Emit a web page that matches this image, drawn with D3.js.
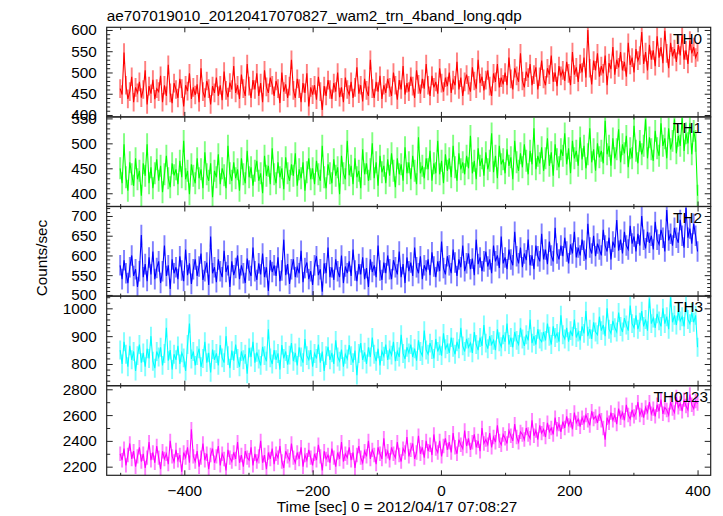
<!DOCTYPE html>
<html><head><meta charset="utf-8">
<script src="https://cdn.jsdelivr.net/npm/d3@7"></script>
<style>
body{margin:0;background:#fff}
text{font-family:"Liberation Sans",Arial,Helvetica,sans-serif;fill:#000}
</style>
</head><body>
<svg id="c" width="723" height="516"></svg>
<script>
const title = "ae707019010_20120417070827_wam2_trn_4band_long.qdp";
const xLabel = "Time [sec] 0 = 2012/04/17 07:08:27";
const yLabel = "Counts/sec";
const bandNames = ["TH0", "TH1", "TH2", "TH3", "TH0123"];
const bandColors = ["#ff0000", "#00ff00", "#0000ff", "#00ffff", "#ff00ff"];
const timeStart = -500, timeStep = 3;

const th0 = [
462,448,547,470,438,455,490,430,465,452,
478,441,460,505,425,468,450,483,437,462,
455,492,430,470,445,518,452,428,475,460,
440,485,462,420,470,456,498,438,465,447,
472,430,510,455,441,480,462,425,468,452,
488,445,470,435,502,458,442,476,460,515,
452,470,438,495,462,445,520,468,440,482,
460,498,445,475,430,505,466,452,488,470,
445,480,462,428,500,455,472,440,468,530,
458,440,485,462,430,475,452,498,420,465,
448,470,436,490,455,412,468,445,482,460,
438,475,455,500,442,465,430,488,460,448,
478,440,465,512,450,470,432,485,458,445,
530,462,440,478,455,492,438,470,452,485,
465,445,500,470,436,482,460,515,448,475,
455,490,468,440,505,472,450,485,462,520,
470,445,492,465,478,450,510,475,455,488,
468,500,452,482,470,525,460,488,445,478,
495,470,455,512,480,462,530,475,490,458,
482,505,468,445,498,478,520,465,488,472,
500,470,535,485,460,510,492,478,545,480,
465,502,488,520,470,495,512,460,490,528,
485,470,510,495,540,478,500,468,515,492,
505,480,525,498,470,548,495,512,478,520,
500,535,488,600,510,472,528,505,545,490,
515,498,540,470,522,508,560,495,530,512,
548,505,525,490,570,518,535,500,555,528,
540,595,520,548,505,565,530,552,515,585,
535,560,522,598,545,510,570,538,555,525,
565,540,590,530,552,520,575,545,560,535,548];

const th1 = [
450,420,498,432,405,462,438,415,470,428,
445,395,460,435,498,420,452,410,440,468,
425,455,402,438,475,430,412,460,436,448,
418,465,432,505,428,445,398,458,435,420,
470,430,448,410,482,438,425,460,392,445,
432,478,418,450,436,410,495,440,425,462,
430,448,405,470,438,420,485,432,452,415,
445,465,425,440,400,475,435,455,418,490,
438,420,462,432,450,408,472,440,425,458,
435,480,415,448,430,462,405,442,470,428,
450,418,465,438,425,495,432,410,458,440,
420,468,435,452,398,475,440,428,505,436,
455,418,470,432,445,410,488,438,460,425,
448,500,430,462,415,475,442,455,420,468,
435,480,445,412,470,438,458,425,492,440,
462,428,475,445,418,512,440,455,430,470,
448,485,425,460,440,505,438,465,420,478,
445,470,432,495,452,425,480,448,462,438,
475,450,515,440,465,428,490,455,470,435,
482,448,465,520,442,475,430,495,458,468,
440,488,455,472,428,505,462,445,480,452,
498,465,438,485,458,530,448,475,460,492,
445,470,510,455,482,435,498,468,452,488,
475,520,458,490,440,505,470,485,455,512,
468,495,450,478,530,462,488,445,500,472,
485,460,545,478,495,455,510,470,488,528,
462,498,480,515,452,490,470,535,485,460,
505,478,495,548,470,512,488,465,525,490,
475,540,495,510,470,530,488,505,548,480,
515,495,550,485,520,500,540,478,525,505,395];

const th2 = [
575,540,588,555,530,570,600,548,565,520,
560,652,545,578,535,595,552,610,540,568,
585,530,560,625,548,575,515,590,555,570,
540,598,562,535,615,550,580,528,565,590,
548,572,605,538,560,582,525,648,555,570,
532,590,560,545,612,558,575,520,585,550,
568,600,540,575,555,530,592,562,548,620,
560,538,580,552,605,545,570,510,588,558,
575,548,595,535,562,640,550,578,528,565,
590,545,570,555,612,532,568,582,540,560,
525,575,598,550,565,508,580,555,620,545,
570,538,590,560,545,600,530,572,555,585,
548,615,562,535,578,552,595,540,568,520,
590,558,575,545,625,562,538,582,555,600,
565,540,588,570,552,610,545,578,530,595,
560,582,548,620,570,555,598,540,575,562,
590,550,608,572,545,585,560,635,568,552,
598,575,555,615,582,548,590,570,625,560,
580,605,565,592,550,640,578,595,560,585,
610,572,590,555,625,585,600,568,648,580,
595,565,615,590,575,660,598,580,620,570,
605,588,640,575,600,565,625,598,585,655,
590,615,578,635,600,585,670,605,590,625,
598,645,610,580,628,605,660,595,620,600,
640,612,590,680,620,605,650,598,630,615,
600,665,625,610,645,590,635,620,690,612,
640,605,660,625,615,675,630,648,610,655,
625,700,640,618,660,632,650,615,685,640,
628,665,645,610,715,638,655,625,670,645,
632,690,650,620,720,645,668,630,680,650,610];

const th3 = [
850,800,880,835,790,865,815,845,775,830,
870,805,840,790,855,820,900,810,785,845,
825,860,795,838,930,812,850,780,835,815,
865,800,840,822,775,870,945,818,845,795,
830,855,790,820,880,805,840,770,852,815,
838,795,868,822,805,900,830,785,848,812,
870,820,790,845,815,835,765,858,825,880,
805,842,818,795,862,830,810,925,822,800,
850,815,838,780,868,820,845,798,832,875,
810,840,795,860,825,805,890,830,815,850,
790,838,820,870,805,845,775,830,862,815,
840,800,885,825,810,852,790,835,818,868,
830,805,848,760,838,875,815,842,800,860,
825,895,835,810,855,795,845,828,870,815,
850,832,880,810,845,825,905,838,818,860,
840,870,825,855,812,885,845,830,920,850,
835,875,852,820,890,845,865,830,910,855,
870,840,895,860,835,880,855,930,865,845,
890,860,875,840,915,870,850,895,865,940,
875,855,900,870,885,850,925,880,862,905,
880,945,870,895,860,915,885,870,930,890,
865,905,885,960,875,900,870,925,890,880,
915,885,945,900,870,935,895,910,880,975,
905,890,930,880,920,900,960,895,915,885,
935,910,990,900,925,890,950,915,905,970,
920,940,900,1000,925,910,955,930,915,985,
935,915,965,940,920,1010,945,930,975,925,
950,990,935,960,920,1035,945,965,930,980,
955,935,1000,945,970,925,1040,950,975,940,
990,955,970,935,1020,960,945,985,950,975,860];

const th0123 = [
2300,2250,2340,2210,2290,2380,2260,2320,2200,2280,
2350,2240,2300,2190,2270,2390,2250,2310,2230,2360,
2270,2180,2320,2260,2300,2220,2400,2280,2240,2330,
2250,2290,2160,2310,2270,2350,2230,2490,2280,2240,
2320,2200,2270,2380,2250,2300,2180,2290,2340,2230,
2280,2360,2210,2300,2260,2170,2330,2270,2240,2310,
2260,2390,2230,2290,2200,2320,2270,2250,2350,2210,
2300,2240,2280,2400,2230,2290,2180,2310,2260,2340,
2220,2300,2270,2360,2240,2190,2320,2280,2250,2380,
2270,2230,2310,2260,2350,2200,2290,2250,2330,2270,
2210,2300,2250,2370,2280,2170,2320,2260,2290,2230,
2340,2270,2200,2310,2260,2390,2240,2300,2270,2350,
2250,2310,2190,2290,2360,2270,2230,2320,2280,2400,
2260,2330,2290,2220,2350,2300,2260,2420,2280,2320,
2250,2350,2300,2270,2390,2290,2240,2340,2310,2430,
2280,2330,2380,2260,2310,2440,2300,2350,2270,2400,
2320,2370,2290,2450,2340,2310,2400,2280,2360,2420,
2330,2390,2310,2460,2350,2300,2410,2370,2340,2480,
2360,2420,2330,2390,2450,2350,2400,2320,2500,2380,
2410,2370,2460,2350,2430,2390,2520,2400,2370,2450,
2420,2380,2480,2440,2400,2530,2430,2390,2470,2450,
2410,2500,2450,2420,2560,2440,2480,2410,2520,2460,
2490,2430,2540,2470,2500,2450,2580,2490,2530,2470,
2550,2500,2590,2520,2560,2490,2620,2540,2570,2510,
2580,2540,2600,2560,2520,2630,2570,2590,2540,2610,
2560,2500,2410,2580,2540,2620,2560,2600,2530,2650,
2580,2620,2560,2680,2600,2570,2640,2590,2620,2700,
2600,2640,2580,2660,2620,2700,2610,2650,2590,2680,
2630,2720,2610,2660,2640,2600,2700,2650,2620,2740,
2660,2690,2630,2720,2670,2640,2760,2680,2650,2710,2690];

const seriesValues = [th0, th1, th2, th3, th0123];
const errHalf = [22, 22, 26, 34, 56];

const xDomain = [-521, 420.5];
const xMajorTicks = [-400, -200, 0, 200, 400];
const xMinorTicks = [-500, -300, -100, 100, 300];
const yDomains = [[395.5, 606.3], [373.5, 553], [497, 724], [722, 1044], [2133, 2828]];
const yMajorTicks = [[400, 450, 500, 550, 600], [400, 450, 500, 550], [500, 550, 600, 650, 700], [800, 900, 1000], [2200, 2400, 2600, 2800]];
const yMinorStep = [10, 10, 10, 20, 100];
const labelRight = [702, 702, 702, 703, 708];

(function () {
const FS = 15.3;
const svg = d3.select("#c");
const plotLeft = 106.7, plotRight = 710.7, plotTop = 27.3, panelH = 89.6;
const x = d3.scaleLinear().domain(xDomain).range([plotLeft, plotRight]);
const frameColor = "#222";

function styleAxis(s) {
  s.select(".domain").remove();
  s.selectAll(".tick line").attr("stroke", frameColor).attr("stroke-width", 1);
  s.selectAll(".tick text").attr("font-size", FS).attr("font-family", "Liberation Sans, Arial, sans-serif").attr("fill", "#000");
}

seriesValues.forEach((vals, k) => {
  const y0 = plotTop + k * panelH, y1 = y0 + panelH;
  const y = d3.scaleLinear().domain(yDomains[k]).range([y1, y0]);
  const g = svg.append("g");
  const clipId = "clip" + k;
  svg.append("clipPath").attr("id", clipId).append("rect")
    .attr("x", plotLeft).attr("y", y0).attr("width", plotRight - plotLeft).attr("height", panelH);
  const data = vals.map((v, i) => ({t: timeStart + i * timeStep, v}));
  const dg = g.append("g").attr("clip-path", `url(#${clipId})`);
  dg.selectAll("line.err").data(data).join("line").attr("class", "err")
    .attr("x1", d => x(d.t)).attr("x2", d => x(d.t))
    .attr("y1", d => y(d.v - errHalf[k])).attr("y2", d => y(d.v + errHalf[k]))
    .attr("stroke", bandColors[k]).attr("stroke-opacity", 0.5).attr("stroke-width", 1.9);
  dg.append("path").datum(data)
    .attr("d", d3.line().x(d => x(d.t)).y(d => y(d.v)))
    .attr("fill", "none").attr("stroke", bandColors[k]).attr("stroke-width", 1.1);

  const [d0, d1] = yDomains[k];
  const minor = d3.range(Math.ceil(d0 / yMinorStep[k]) * yMinorStep[k], d1, yMinorStep[k])
    .filter(v => !yMajorTicks[k].includes(v));

  g.append("g").attr("transform", `translate(${plotLeft},0)`)
    .call(d3.axisLeft(y).tickValues(yMajorTicks[k]).tickSize(-6).tickPadding(10).tickFormat(d3.format("d")))
    .call(styleAxis);
  g.append("g").attr("transform", `translate(${plotLeft},0)`)
    .call(d3.axisLeft(y).tickValues(minor).tickSize(-3.5).tickFormat(""))
    .call(styleAxis);
  g.append("g").attr("transform", `translate(${plotRight},0)`)
    .call(d3.axisRight(y).tickValues(yMajorTicks[k]).tickSize(-6).tickFormat(""))
    .call(styleAxis);
  g.append("g").attr("transform", `translate(${plotRight},0)`)
    .call(d3.axisRight(y).tickValues(minor).tickSize(-3.5).tickFormat(""))
    .call(styleAxis);
  g.append("g").attr("transform", `translate(0,${y0})`)
    .call(d3.axisTop(x).tickValues(xMajorTicks).tickSize(-5).tickFormat(""))
    .call(styleAxis);
  g.append("g").attr("transform", `translate(0,${y0})`)
    .call(d3.axisTop(x).tickValues(xMinorTicks).tickSize(-2.5).tickFormat(""))
    .call(styleAxis);
  const last = k === seriesValues.length - 1;
  g.append("g").attr("transform", `translate(0,${y1})`)
    .call(d3.axisBottom(x).tickValues(xMajorTicks).tickSize(-5).tickPadding(9.5)
      .tickFormat(last ? (d => d < 0 ? "\u2212" + Math.abs(d) : String(d)) : ""))
    .call(styleAxis);
  g.append("g").attr("transform", `translate(0,${y1})`)
    .call(d3.axisBottom(x).tickValues(xMinorTicks).tickSize(-2.5).tickFormat(""))
    .call(styleAxis);

  g.append("rect").attr("x", plotLeft).attr("y", y0).attr("width", plotRight - plotLeft).attr("height", panelH)
    .attr("fill", "none").attr("stroke", frameColor).attr("stroke-width", 1.2);

  g.append("text").attr("x", labelRight[k]).attr("y", y0 + 16.2)
    .attr("text-anchor", "end").attr("font-size", FS).text(bandNames[k]);
});

svg.append("text").attr("x", plotLeft).attr("y", 20.5).attr("font-size", FS).text(title);
svg.append("text").attr("x", 397).attr("y", 511.5).attr("text-anchor", "middle").attr("font-size", FS).text(xLabel);
svg.append("text").attr("transform", "translate(47,258) rotate(-90)").attr("text-anchor", "middle")
  .attr("font-size", FS).text(yLabel);
})();
</script>
</body></html>
